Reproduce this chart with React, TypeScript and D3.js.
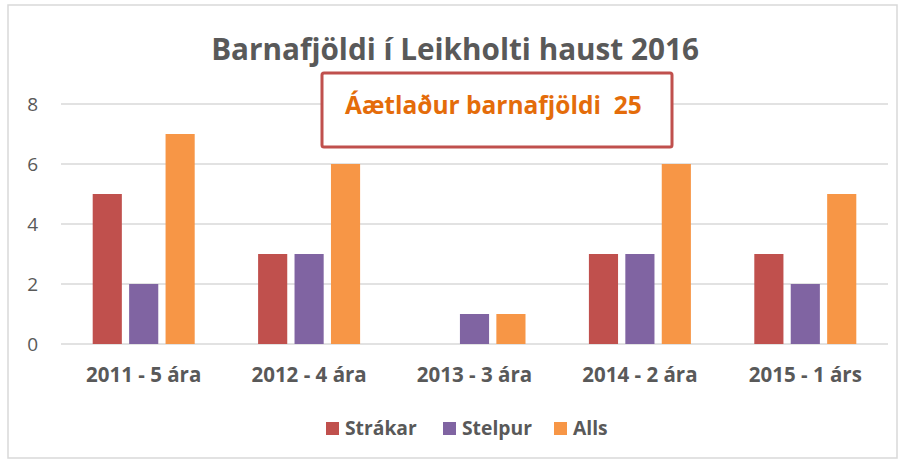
import React from "react";
import * as d3 from "d3";

const categories = ["2011 - 5 ára", "2012 - 4 ára", "2013 - 3 ára", "2014 - 2 ára", "2015 - 1 árs"];
const seriesNames = ["Strákar", "Stelpur", "Alls"];
const strakar = [5, 3, 0, 3, 3];
const stelpur = [2, 3, 1, 3, 2];
const alls = [7, 6, 1, 6, 5];
const yTicks = [0, 2, 4, 6, 8];
const colors = ["#C0504D", "#8064A2", "#F79646"];
const title = "Barnafjöldi í Leikholti haust 2016";
const note = "Áætlaður barnafjöldi  25";

const W = 906;
const H = 463;
const FONT = "'Open Sans', Lato, sans-serif";

export default function App() {
  const seriesValues = [strakar, stelpur, alls];
  const x0 = d3.scaleBand<string>().domain(categories).range([61, 888]).padding(0);
  const x1 = d3.scaleBand<string>().domain(seriesNames).range([0, 102]).paddingInner(0.2).paddingOuter(0);
  const y = d3.scaleLinear().domain([0, 8]).range([344, 104]);
  const bw = x0.bandwidth();

  const legendX = [326, 443, 554];

  return (
    <div style={{ position: "absolute", left: 0, top: 0 }}>
      <svg width={W} height={H} style={{ display: "block", fontFamily: FONT }}>
        <rect x={0} y={0} width={W} height={H} fill="#fff" />
        <rect x={8} y={5} width={889} height={453} fill="#fff" stroke="#d9d9d9" strokeWidth={1.5} />
        <text x={455} y={60} textAnchor="middle" fontSize={29.7} fontWeight={700} fill="#595959">
          {title}
        </text>
        {yTicks.map((t) => (
          <g key={t}>
            <line x1={61} x2={888} y1={y(t)} y2={y(t)} stroke="#d9d9d9" strokeWidth={1.5} />
            <text x={38} y={y(t) + 7} textAnchor="end" fontSize={19} fill="#595959">
              {t}
            </text>
          </g>
        ))}
        {categories.map((c, i) => (
          <g key={c}>
            {seriesNames.map((s, j) => {
              const v = seriesValues[j][i];
              const bx = (x0(c) as number) + bw / 2 - 51 + (x1(s) as number);
              return v > 0 ? (
                <rect key={s} x={bx} y={y(v)} width={x1.bandwidth()} height={y(0) - y(v)} fill={colors[j]} />
              ) : null;
            })}
            <text x={(x0(c) as number) + bw / 2} y={382} textAnchor="middle" fontSize={20.5} fontWeight={700} fill="#595959">
              {c}
            </text>
          </g>
        ))}
        <rect x={322} y={73} width={350} height={74} rx={2} fill="#fff" stroke="#C0504D" strokeWidth={3} />
        <text x={345} y={114} fontSize={24.5} fontWeight={700} fill="#E46C0A" style={{ whiteSpace: "pre" }}>
          {note}
        </text>
        {seriesNames.map((s, j) => (
          <g key={s}>
            <rect x={legendX[j]} y={422} width={13} height={13} fill={colors[j]} />
            <text x={legendX[j] + 19} y={435} fontSize={19.3} fontWeight={700} fill="#595959">
              {s}
            </text>
          </g>
        ))}
      </svg>
    </div>
  );
}
